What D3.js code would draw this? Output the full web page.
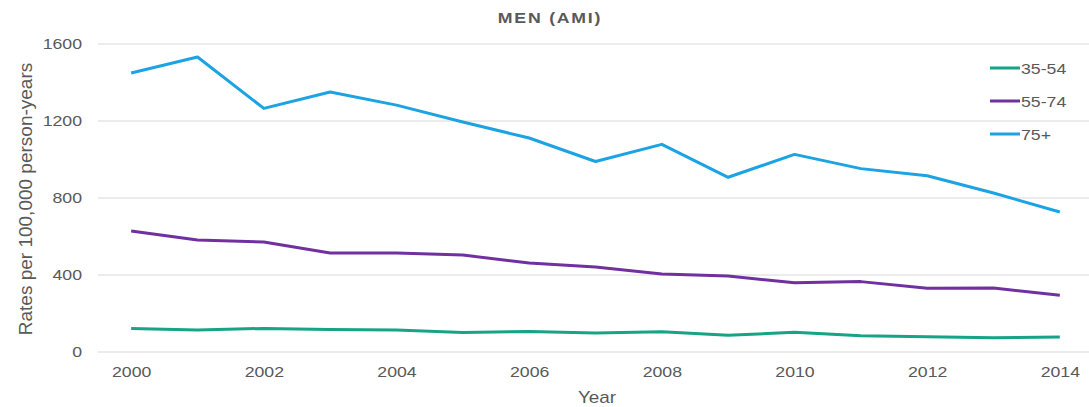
<!DOCTYPE html>
<html>
<head>
<meta charset="utf-8">
<script src="https://cdn.jsdelivr.net/npm/d3@7"></script>
<style>
  body { margin: 0; background: #fff; }
  text { font-family: "Liberation Sans", Arial, sans-serif; fill: #595959; }
</style>
</head>
<body>
<svg id="chart"></svg>
<script>
// data
var years = [2000, 2001, 2002, 2003, 2004, 2005, 2006, 2007, 2008, 2009, 2010, 2011, 2012, 2013, 2014];
var ages3554 = [120, 112, 120, 114, 112, 99, 104, 96, 103, 84, 100, 82, 77, 72, 75];
var ages5574 = [626, 579, 569, 512, 512, 501, 460, 439, 403, 392, 357, 363, 328, 330, 292];
var ages75 = [1447, 1530, 1263, 1348, 1280, 1192, 1109, 987, 1076, 905, 1024, 950, 913, 823, 725];
var seriesNames = ['35-54', '55-74', '75+'];
var seriesColors = ['#17a386', '#7030a0', '#1ba3e3'];
var yTicks = [0, 400, 800, 1200, 1600];
var xTickYears = [2000, 2002, 2004, 2006, 2008, 2010, 2012, 2014];

var WIDTH = 1089, HEIGHT = 407;
var SX = 'scale(1.18,1)'; // the source text is stretched sideways

var series = [ages3554, ages5574, ages75].map(function(vals, i) {
  return { name: seriesNames[i], color: seriesColors[i], values: vals };
});

var svg = d3.select('#chart').attr('width', WIDTH).attr('height', HEIGHT);

var x = d3.scalePoint().domain(years).range([98, 1093]).padding(0.5);
var y = d3.scaleLinear().domain([0, 1600]).range([351.5, 43.5]);

// gridlines + y labels
var yAxis = svg.append('g')
  .attr('transform', 'translate(98,0)')
  .call(d3.axisLeft(y).tickValues(yTicks).tickFormat(d3.format('d'))
    .tickSize(-(1093 - 98)).tickPadding(16));
yAxis.select('.domain').remove();
yAxis.selectAll('line').attr('stroke', '#d9d9d9');
yAxis.selectAll('text').attr('font-size', 15).attr('fill', '#595959').attr('transform', SX)
  .attr('x', -16 / 1.18);

// x labels
var xAxis = svg.append('g')
  .attr('transform', 'translate(0,351.5)')
  .call(d3.axisBottom(x).tickValues(xTickYears).tickFormat(d3.format('d'))
    .tickSize(0).tickPadding(15));
xAxis.select('.domain').remove();
xAxis.selectAll('text').attr('font-size', 15).attr('fill', '#595959').attr('transform', SX);

var line = d3.line()
  .x(function(d, i) { return x(years[i]); })
  .y(function(d) { return y(d); });

svg.selectAll('path.series')
  .data(series)
  .enter().append('path')
  .attr('class', 'series')
  .attr('d', function(d) { return line(d.values); })
  .attr('fill', 'none')
  .attr('stroke', function(d) { return d.color; })
  .attr('stroke-width', 3)
  .attr('stroke-linejoin', 'round');

// title
svg.append('text')
  .attr('transform', 'translate(550,23) ' + SX)
  .attr('text-anchor', 'middle')
  .attr('font-size', 15)
  .attr('font-weight', 'bold')
  .attr('letter-spacing', 1.5)
  .text('MEN (AMI)');

// axis titles
svg.append('text')
  .attr('transform', 'translate(597,403) ' + SX)
  .attr('text-anchor', 'middle')
  .attr('font-size', 16)
  .text('Year');

svg.append('text')
  .attr('transform', 'translate(32,199) rotate(-90)')
  .attr('text-anchor', 'middle')
  .attr('font-size', 19)
  .text('Rates per 100,000 person-years');

// legend
var legend = svg.selectAll('g.legend')
  .data(series)
  .enter().append('g')
  .attr('class', 'legend')
  .attr('transform', function(d, i) { return 'translate(990,' + (68 + i * 33) + ')'; });
legend.append('line')
  .attr('x1', 0).attr('x2', 30)
  .attr('stroke', function(d) { return d.color; })
  .attr('stroke-width', 3);
legend.append('text')
  .attr('transform', 'translate(31,5.5) ' + SX)
  .attr('font-size', 15)
  .text(function(d) { return d.name; });
</script>
</body>
</html>
